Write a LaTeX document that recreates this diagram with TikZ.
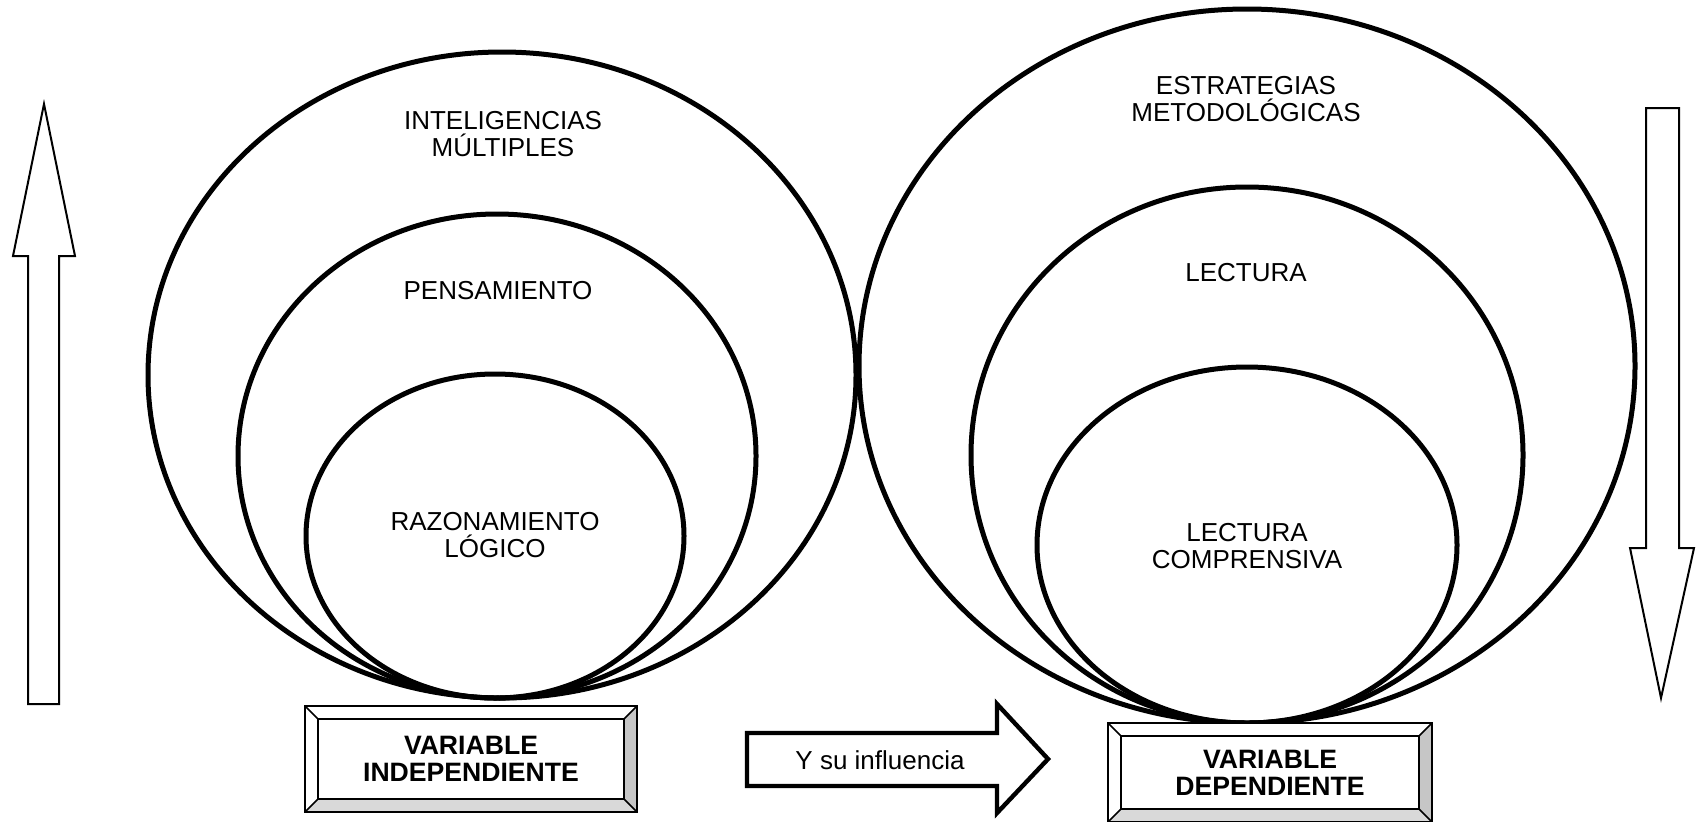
\documentclass[tikz,border=0pt]{standalone}
\usepackage{fontspec}
\setmainfont{Liberation Sans}

% bevelled box: name, left, top, right, bottom, text
\newcommand{\bevelbox}[6]{%
  \fill[white] (#2,#3) rectangle (#4,#5);
  \fill[gray!45] (#4,#3) -- (#4,#5) -- (#4-13,#5-13) -- (#4-13,#3+13) -- cycle;
  \fill[gray!30] (#2,#5) -- (#4,#5) -- (#4-13,#5-13) -- (#2+13,#5-13) -- cycle;
  \draw[bevel] (#2,#3) rectangle (#4,#5);
  \draw[bevel] (#2+13,#3+13) rectangle (#4-13,#5-13);
  \draw[bevel] (#2,#3) -- (#2+13,#3+13) (#4,#3) -- (#4-13,#3+13)
    (#2,#5) -- (#2+13,#5-13) (#4,#5) -- (#4-13,#5-13);
  \node[boxtext] (#1) at ({(#2+#4)/2},{(#3+#5)/2}) {#6};
}

\begin{document}
\begin{tikzpicture}[x=0.5pt,y=-0.5pt,
    ring/.style={line width=2.5pt},
    label/.style={align=center,font=\fontsize{13}{13.5}\selectfont},
    boxtext/.style={align=center,font=\fontsize{13.3}{13.5}\selectfont\bfseries},
    bevel/.style={line width=0.8pt},
    thinarrow/.style={line width=1pt,fill=white}]
  \useasboundingbox (0,0) rectangle (1696,821);

  % left set of ellipses
  \draw[ring] (502,375) ellipse [x radius=354, y radius=323];
  \draw[ring] (497,456) ellipse [x radius=259, y radius=242];
  \draw[ring] (495,536) ellipse [x radius=189, y radius=162];
  \node[label] (im) at (503,134) {INTELIGENCIAS\\M\'ULTIPLES};
  \node[label] (pens) at (498,291) {PENSAMIENTO};
  \node[label] (razon) at (495,535) {RAZONAMIENTO\\L\'OGICO};

  % right set of ellipses
  \draw[ring] (1247,366) ellipse [x radius=388, y radius=357];
  \draw[ring] (1247,455) ellipse [x radius=276, y radius=268];
  \draw[ring] (1247,545) ellipse [x radius=210, y radius=178];
  \node[label] (estr) at (1246,99) {ESTRATEGIAS\\METODOL\'OGICAS};
  \node[label] (lect) at (1246,273) {LECTURA};
  \node[label] (lcomp) at (1247,546) {LECTURA\\COMPRENSIVA};

  % side arrows
  \draw[thinarrow] (28,704) -- (28,256) -- (13,256) -- (44,104) -- (75,256)
    -- (59,256) -- (59,704) -- cycle;
  \draw[thinarrow] (1646,108) -- (1646,548) -- (1630,548) -- (1661,698)
    -- (1694,548) -- (1679,548) -- (1679,108) -- cycle;

  % variable boxes
  \bevelbox{vi}{305}{706}{637}{812}{VARIABLE\\INDEPENDIENTE}
  \bevelbox{vd}{1108}{723}{1432}{822}{VARIABLE\\DEPENDIENTE}

  % influence arrow
  \draw[line width=2.2pt,fill=white] (747,733) -- (997,733) -- (997,704)
    -- (1048,759) -- (997,813) -- (997,786) -- (747,786) -- cycle;
  \node[label] (infl) at (880,760) {Y su influencia};
\end{tikzpicture}
\end{document}
